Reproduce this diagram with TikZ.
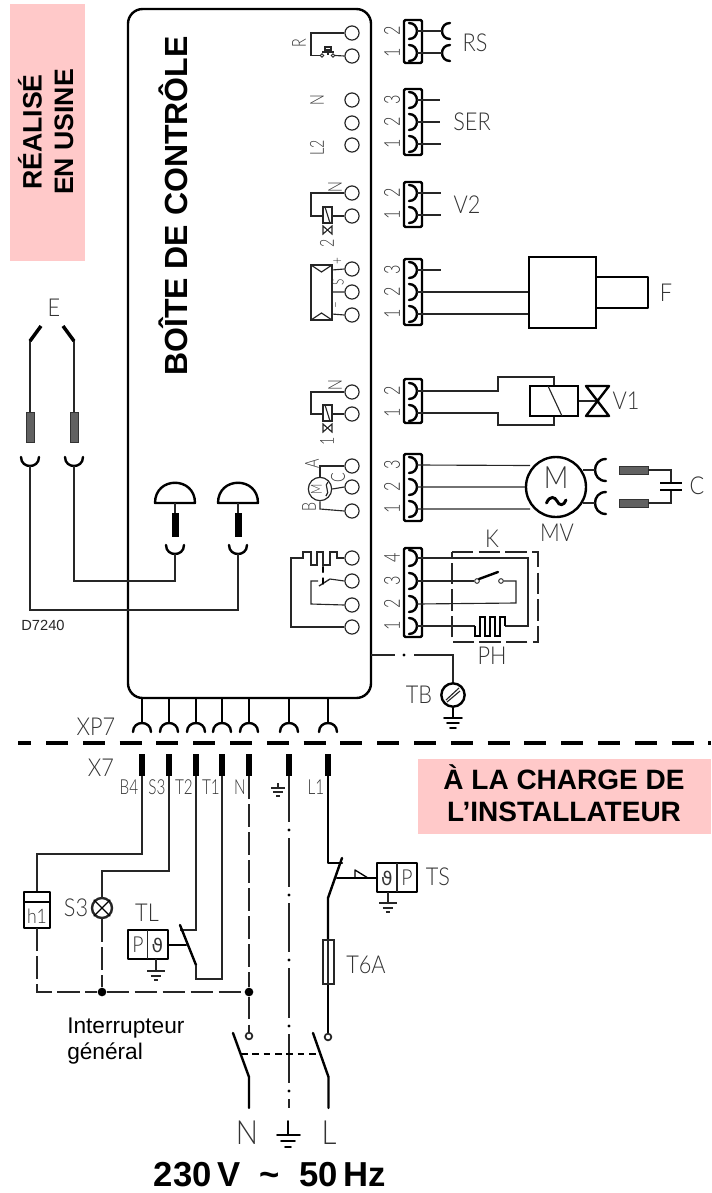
\documentclass[tikz,border=0pt]{standalone}
\usepackage{fontspec}
\setmainfont{Liberation Sans}
\newfontfamily\cadf[UprightFont={* Light},FakeStretch=0.88]{Lato}
\newfontfamily\cadn[UprightFont={* Light},FakeStretch=0.74]{Lato}
\newfontfamily\symf{DejaVu Sans}
\definecolor{pinkbg}{HTML}{FFC9C9}
\definecolor{wire}{gray}{0.15}
\definecolor{cadtxt}{gray}{0.2}
\tikzset{
 thn/.style={line width=0.85pt,draw=wire},
 thk/.style={line width=1.8pt,draw=black,line join=round,line cap=round},
 hvy/.style={line width=2.3pt,draw=black},
 lng/.style={line width=0.85pt,draw=wire,dash pattern=on 17pt off 4pt},
 term/.style={circle,draw=black!85,line width=0.9pt,minimum size=10.6pt,inner sep=0pt},
 sdot/.style={circle,fill=black,inner sep=0pt,minimum size=6.5pt},
 lab/.style={inner sep=0pt,text=cadtxt,font=\cadf\fontsize{18.5pt}{20pt}\selectfont},
 lnum/.style={inner sep=0pt,text=cadtxt,font=\cadn\fontsize{16.5pt}{18pt}\selectfont,rotate=90},
 lin/.style={inner sep=0pt,text=cadtxt,font=\cadn\fontsize{14.5pt}{15pt}\selectfont,rotate=90},
 lsm/.style={inner sep=0pt,text=cadtxt,font=\cadn\fontsize{12pt}{13pt}\selectfont,rotate=90},
 lwr/.style={inner sep=0pt,text=cadtxt,font=\cadn\fontsize{15.5pt}{17pt}\selectfont},
 big/.style={inner sep=0pt,text=black,font=\bfseries\fontsize{26pt}{28pt}\selectfont},
 txtb/.style={inner sep=0pt,text=black,font=\bfseries\fontsize{24pt}{28pt}\selectfont,rotate=90},
 pinkt/.style={inner sep=0pt,text=black,font=\bfseries\fontsize{20pt}{24pt}\selectfont},
 pinkb/.style={inner sep=0pt,text=black,font=\bfseries\fontsize{21pt}{24pt}\selectfont},
 plain/.style={inner sep=0pt,text=black,font=\fontsize{17pt}{19pt}\selectfont,align=left},
 hatch/.style={fill=black!62,draw=black!80,line width=0.4pt},
}
\newcommand{\cupr}[2]{\coordinate (#1) at (417,#2); \draw[thk] (409,#2-8) .. controls (419.6,#2-8) and (419.6,#2+8) .. (409,#2+8);}
\newcommand{\cupdn}[3]{\coordinate (#1) at (#2,#3+9); \draw[thk] (#2-9,#3) .. controls (#2-9,#3+12) and (#2+9,#3+12) .. (#2+9,#3);}
\newcommand{\cupup}[3]{\coordinate (#1) at (#2,#3-9); \draw[thk] (#2-9,#3) .. controls (#2-9,#3-12) and (#2+9,#3-12) .. (#2+9,#3);}
\newcommand{\cupl}[4]{\coordinate (#1) at (#2,#3); \draw[thk] (#2+#4,#3-#4) .. controls (#2-1.33*#4+#4,#3-#4) and (#2-1.33*#4+#4,#3+#4) .. (#2+#4,#3+#4);}
\newcommand{\gnd}[4]{\draw[thn] (#1,#2) -- (#1,#3); \draw[thn,line width=1pt] (#1-#4,#3) -- (#1+#4,#3) (#1-#4*0.6,#3+5) -- (#1+#4*0.6,#3+5) (#1-#4*0.25,#3+9) -- (#1+#4*0.25,#3+9);}
\begin{document}
\begin{tikzpicture}[x=0.75pt,y=-0.75pt]
\useasboundingbox (0,0) rectangle (711,1193);
% pink zones
\fill[pinkbg] (10,4) rectangle (85,261);
\fill[pinkbg] (418,759) rectangle (711,834);
\node[pinkt,rotate=90] (tReal) at (30,132) {RÉALISÉ};
\node[pinkt,rotate=90] (tUsine) at (64,132) {EN USINE};
\node[pinkb] (tCharge) at (564,777) {À LA CHARGE DE};
\node[pinkb] (tInst) at (564,812) {L’INSTALLATEUR};
% control box
\draw[thk,rounded corners=11pt] (128,9) rectangle (371,698);
\node[txtb] (tBoite) at (173,206) {BOÎTE DE CONTRÔLE};
% box terminals
\foreach \n/\y in {r2/33,r1/56,n3/100,n2/123,n1/145,a2/193,a1/216,s3/269,s2/292,s1/315,b2/392,b1/414,m3/466,m2/487,m1/511,k4/558,k3/581,k2/605,k1/627}
  \node[term] (\n) at (352,\y) {};
% R
\draw[thn] (r2.west) -- (311,33) -- (311,55.5);
\node[term,minimum size=2.6pt,line width=0.6pt] (rc1) at (322,55.5) {};
\node[term,minimum size=2.6pt,line width=0.6pt] (rc2) at (333,55.5) {};
\draw[thn] (rc1.west) -- (311,55.5);
\draw[thn] (rc2.east) -- (r1.west);
\draw[thn] (325,47) rectangle (331,50);
\draw[thn] (328,50) -- (328,55) (322,52) -- (334,52);
\node[lin] (lR) at (299,43) {R};
\node[lin] (lN1) at (317,100) {N};
\node[lin] (lL2) at (317,148) {L2};
% V2 inner
\draw[thn] (a2.west) -- (311,193) -- (311,216) -- (323,216);
\draw[thn] (332,216) -- (a1.west);
\draw[thn] (323,207) rectangle (332,223);
\draw[thn] (325,207) -- (330,223);
\draw[thn] (323,226) -- (332,234) -- (332,226) -- (323,234) -- cycle;
\node[lin] (lN2) at (335,187) {N};
\node[lin] (l2) at (327,243) {2};
% sensor inner
\draw[thn] (311,265) rectangle (332,320);
\draw[thn] (311,265) -- (321.5,272) -- (332,265) (311,320) -- (321.5,313) -- (332,320);
\draw[thn] (332,270) -- (s3.west) (332,292) -- (s2.west) (332,314) -- (s1.west);
\node[lsm] (lp) at (338,261) {+};
\node[lsm] (lS) at (338,282) {S};
\node[lsm] (lm) at (338,305) {–};
% V1 inner
\draw[thn] (b2.west) -- (311,392) -- (311,414) -- (323,414);
\draw[thn] (332,414) -- (b1.west);
\draw[thn] (323,405) rectangle (332,421);
\draw[thn] (325,405) -- (330,421);
\draw[thn] (323,424) -- (332,432) -- (332,424) -- (323,432) -- cycle;
\node[lin] (lN3) at (335,385) {N};
\node[lin] (l1) at (327,441) {1};
% motor inner
\node[term,minimum size=17.5pt] (mot) at (320,489) {};
\draw[thn] (mot.north) -- (320,466) -- (m3.west);
\draw[thn] (mot.east) -- (m2.west);
\draw[thn] (mot.south) -- (320,509) -- (m1.west);
\node[lin,font=\cadn\fontsize{11.5pt}{12pt}\selectfont] (lMi) at (316.5,489) {M};
\draw[thn] (328,482) .. controls (323,485) and (331,492) .. (326,496);
\node[lin] (lA) at (312,464) {A};
\node[lin] (lB) at (309,507) {B};
\node[lin] (lC) at (338,478) {C};
% heater / switch inner
\draw[thn] (k4.west) -- (337,558) -- (337,552) -- (330,552) -- (330,565) -- (323,565) -- (323,552) -- (317,552) -- (317,565) -- (311,565) -- (311,552) -- (303,552) -- (303,558) -- (291,558) -- (291,627) -- (k1.west);
\draw[thk] (323,567) -- (323,572);
\draw[thn] (k3.west) -- (330,579);
\draw[thn,line width=1pt] (319,586) -- (330,579);
\draw[thk,line width=1pt] (323,578) -- (323,584);
\draw[thn] (318,581) -- (311,581) -- (311,604) -- (k2.west);
% external connector blocks
\foreach \a/\b in {20/63,89/155,182/227,259/325,379/423,454/521,548/637}
  \draw[thk,rounded corners=1pt] (404,\a) rectangle (422,\b);
\cupr{cR2}{31}\cupr{cR1}{53}
\cupr{cS3}{100}\cupr{cS2}{122}\cupr{cS1}{144}
\cupr{cV2}{193}\cupr{cV1}{215}
\cupr{cF3}{270}\cupr{cF2}{292}\cupr{cF1}{314}
\cupr{cW2}{391}\cupr{cW1}{413}
\cupr{cM3}{465}\cupr{cM2}{487}\cupr{cM1}{509}
\cupr{cK4}{558}\cupr{cK3}{581}\cupr{cK2}{604}\cupr{cK1}{626}
\foreach \t/\y/\id in {2/31/a,1/53/b,3/100/c,2/122/d,1/144/e,2/193/f,1/215/g,3/270/h,2/292/i,1/314/j,2/391/k,1/413/l,3/465/m,2/487/o,1/509/p,4/558/q,3/581/r,2/604/s,1/626/t}
  \node[lnum] (num\id) at (392,\y) {\t};
% RS
\cupl{pR2}{442}{31}{8}\cupl{pR1}{442}{53}{8}
\draw[thn] (cR2) -- (pR2) (cR1) -- (pR1);
\node[lab] (lRS) at (475,43) {RS};
% SER
\coordinate (eS3) at (440,100);\coordinate (eS2) at (440,122);\coordinate (eS1) at (441,144);
\draw[thn] (cS3) -- (eS3) (cS2) -- (eS2) (cS1) -- (eS1);
\node[lab] (lSER) at (472,122) {SER};
% V2
\coordinate (eV2) at (441,193);\coordinate (eV1) at (441,215);
\draw[thn] (cV2) -- (eV2) (cV1) -- (eV1);
\node[lab] (lV2) at (467,205) {V2};
% F
\coordinate (eF3) at (441,270);
\node[draw=black,line width=1.8pt,minimum width=50pt,minimum height=53pt,inner sep=0pt] (fbox) at (562.5,292.5) {};
\draw[thk] (fbox.east |- 0,277) -- (648,277) -- (648,308) -- (fbox.east |- 0,308);
\draw[thn] (cF3) -- (eF3) (cF2) -- (fbox.west |- cF2) (cF1) -- (fbox.west |- cF1);
\node[lab] (lF) at (666,293) {F};
% V1
\node[draw=black,line width=1.8pt,minimum width=36pt,minimum height=22.5pt,inner sep=0pt] (sol) at (554,401) {};
\draw[thn] (cW2) -- (498,391) -- (498,377) -- (554,377) -- (sol.north);
\draw[thn] (cW1) -- (498,413) -- (498,425) -- (554,425) -- (sol.south);
\draw[thn] (548,386) -- (562,416);
\coordinate (vc) at (597.5,401);
\draw[thn] (sol.east) -- (vc);
\draw[thk] (586,386) -- (609,386) -- (586,416) -- (609,416) -- cycle;
\node[lab] (lV1) at (626,401) {V1};
% motor
\node[draw=black,circle,line width=1.8pt,minimum size=45pt,inner sep=0pt] (mv) at (556,487) {};
\draw[thn] (cM3) -- (530,465.5) (cM2) -- (mv.west) (cM1) -- (530,509);
\node[lab,font=\cadf\fontsize{23pt}{24pt}\selectfont] (lM) at (556,478) {M};
\draw[line width=2.2pt,line cap=round] (546.5,503) .. controls (550,495) and (555,497) .. (557,501) .. controls (559,506) and (564,506) .. (566,500);
\node[lab] (lMV) at (557,533) {MV};
\cupl{pC1}{595}{470}{11}\cupl{pC2}{595}{503}{11}
\draw[thn] (583,470) -- (pC1) (583,503) -- (pC2);
\draw[hatch] (619,466) rectangle (648,474);
\draw[hatch] (619,499) rectangle (648,507);
\coordinate (capT) at (671,483);\coordinate (capB) at (671,490);
\draw[thn] (648,470) -- (671,470) -- (capT) (648,503) -- (671,503) -- (capB);
\draw[line width=2.2pt] (660,483) -- (682,483) (660,490) -- (682,490);
\node[lab] (lC2) at (697,486) {C};
% K / PH
\draw[thn,dash pattern=on 16pt off 4pt] (452,552) -- (538,552) -- (538,642) -- (452,642) -- cycle;
\node[term,minimum size=3.5pt,line width=0.7pt] (kc1) at (477,581) {};
\node[term,minimum size=3.5pt,line width=0.7pt] (kc2) at (501,581) {};
\draw[thn] (cK3) -- (kc1.west);
\draw[thk] (kc1.north east) -- (498,572);
\draw[thn] (kc2.east) -- (516,581) -- (516,603) -- (cK2);
\draw[thn] (cK4) -- (528,558) -- (528,626) -- (505,626);
\draw[thn] (cK1) -- (475,626);
\draw[line width=1.7pt,line join=miter] (475,626) -- (475,636) -- (480,636) -- (480,617) -- (485,617) -- (485,636) -- (490,636) -- (490,617) -- (495,617) -- (495,636) -- (500,636) -- (500,617) -- (505,617) -- (505,626);
\node[lab] (lK) at (492,539) {K};
\node[lab] (lPH) at (492,656) {PH};
% TB
\draw[thn] (371,655) -- (395,655) (414,655) -- (453,655) -- (453,683);
\fill (404,655) circle (1.2pt);
\node[draw=black,circle,line width=1.8pt,minimum size=17.5pt,inner sep=0pt] (tb) at (453,695) {};
\draw[thn] (446,700) -- (459,688) (447,702) -- (460,691);
\node[lab] (lTB) at (419,695) {TB};
\draw[thk,line width=1pt] (tb.south) -- (453,718);
\draw[thk,line width=1.2pt] (444,718) -- (462,718) (447,723) -- (459,723) (450,728) -- (456,728);
% E / probes
\node[lab] (lE) at (54,308) {E};
\foreach \x/\t/\id in {30/41/el,74/63/er}{
  \draw[thn,line width=1.3pt] (\x,339) -- (\x,412);
  \draw[line width=2.6pt] (\x,341) -- (\t,326);
  \draw[hatch] (\x-4,412) rectangle (\x+4,442);
  \cupdn{c\id}{\x}{457}
}
\cupdn{cdA}{175}{545}
\cupdn{cdB}{238}{545}
\draw[thn] (cel) -- (30,610) -- (238,610) -- (cdB);
\draw[thn] (cer) -- (74,581) -- (175,581) -- (cdA);
\foreach \x in {175,238}{
  \draw[thk] (\x-20,503) .. controls (\x-20,476) and (\x+20,476) .. (\x+20,503) -- cycle;
  \draw[thn] (\x,503) -- (\x,513);
  \fill[black] (\x-3.5,513) rectangle (\x+3.5,537);
}
\node[inner sep=0pt,text=black!85,font=\fontsize{11pt}{12pt}\selectfont] (lD) at (43,625) {D7240};
% XP7 / X7
\foreach \x/\id in {142/a,169/b,196/c,222/d,249/e,289/f,328/g}{
  \draw[line width=1.4pt] (\x,698) -- (\x,723);
  \cupup{xp\id}{\x}{732}
  \fill[black] (\x-3,754) rectangle (\x+3,776);
}
\node[lab] (lXP) at (96,727) {XP7};
\node[lab] (lX) at (101,768) {X7};
\draw[line width=2.5pt] (18,743) -- (31,743);
\draw[line width=2.5pt,dash pattern=on 16.5pt off 11.1pt] (46,743) -- (711,743);
\foreach \x/\t/\id in {129/B4/a,157/S3/b,184/T2/c,211/T1/d,240/N/e,316/L1/f}
  \node[lwr] (w\id) at (\x,787) {\t};
\draw[thn] (271,788) -- (285,788) (273,792) -- (283,792) (276,796) -- (280,796) (278,783) -- (278,788);
% low voltage lines
\draw[thn] (142,776) -- (142,854) -- (37,854) -- (37,892);
\draw[thk] (24,892) rectangle (50,928);
\draw[thk,line width=1pt] (24,902) -- (50,902);
\node[lab,font=\cadf\fontsize{15pt}{16pt}\selectfont] (lh) at (37,916) {h1};
\node[term,minimum size=15pt,line width=1.8pt] (lamp) at (102,908) {};
\draw[thk,line width=1pt] (lamp.north west) -- (lamp.south east) (lamp.north east) -- (lamp.south west);
\draw[thn] (169,776) -- (169,871) -- (102,871) -- (lamp.north);
\node[lab] (lS3) at (76,908) {S3};
\node[sdot] (dA) at (102,992) {};
\node[sdot] (dB) at (249,992) {};
\draw[lng] (37,928) -- (37,992) -- (dA);
\draw[lng] (dA) -- (dB);
\draw[lng] (lamp.south) -- (dA);
\draw[lng] (249,776) -- (dB);
% TL
\draw[thn] (196,776) -- (196,930) -- (180,930);
\draw[thk] (180,925) -- (196,965);
\draw[thn] (222,776) -- (222,979) -- (196,979) -- (196,965);
\draw[thk] (128,930) rectangle (168,959);
\draw[thn] (147.5,930) -- (147.5,959);
\draw[thk] (168,945) -- (186,945);
\node[lab,font=\cadf\fontsize{16.5pt}{17pt}\selectfont] (lPa) at (138,945) {P};
\node[inner sep=0pt,font=\symf\fontsize{14pt}{15pt}\selectfont,text=cadtxt] (lTh) at (157.5,945) {ϑ};
\gnd{156}{959}{971}{9}
\node[lab] (lTL) at (147,913) {TL};
% earth line
\foreach \a/\b in {776/822,838/887,903/952,968/1018,1034/1083,1099/1108}
  \draw[thn] (289,\a) -- (289,\b);
\foreach \y in {830,895,960,1026,1091}
  \fill (289,\y) circle (1.2pt);
\draw[thk,line width=1.4pt] (288,1121) -- (288,1135) (277,1135) -- (300,1135);
\draw[thk,line width=1.4pt] (281,1141) -- (295,1141) (285,1147) -- (291,1147);
% L1
\draw[thk] (328,776) -- (328,863) -- (342,863);
\draw[thk] (342,858) -- (328,898) -- (328,940);
\draw[thk] (328,984) -- (328,1033);
\draw[thn] (323,940) rectangle (334,984);
\draw[thn] (328,940) -- (328,984);
\node[lab] (lT6) at (366,965) {T6A};
\node[term,minimum size=5pt,line width=1.3pt] (mL) at (328,1037) {};
\node[term,minimum size=5pt,line width=1.3pt] (mN) at (249,1036) {};
\draw[lng] (dB) -- (mN);
% TS
\draw[thk] (337,878) -- (377,878);
\draw[thk,line width=1pt] (355,878) -- (355,870) -- (368,878);
\draw[thk] (377,863) rectangle (417,892);
\draw[thn] (397,863) -- (397,892);
\node[inner sep=0pt,font=\symf\fontsize{14pt}{15pt}\selectfont,text=cadtxt] (lTh2) at (387,878) {ϑ};
\node[lab,font=\cadf\fontsize{16.5pt}{17pt}\selectfont] (lPb) at (407,878) {P};
\gnd{388}{892}{903}{9}
\node[lab] (lTS) at (438,877) {TS};
% main switch
\draw[thk] (233,1033) -- (249,1077) -- (249,1108);
\draw[thk] (313,1033) -- (328.5,1077) -- (328.5,1108);
\draw[line width=1.5pt,dash pattern=on 5pt off 3.5pt] (241,1054) -- (321,1054);
\node[lab,font=\cadf\fontsize{25pt}{27pt}\selectfont] (lNm) at (247,1133) {N};
\node[lab,font=\cadf\fontsize{25pt}{27pt}\selectfont] (lLm) at (329,1133) {L};
\node[plain,anchor=west] (lInt) at (67,1041) {Interrupteur\\général};
\node[big] (lV) at (270,1175) {230\,V\ \ \char"7E\ \ 50\,Hz};
\end{tikzpicture}
\end{document}
